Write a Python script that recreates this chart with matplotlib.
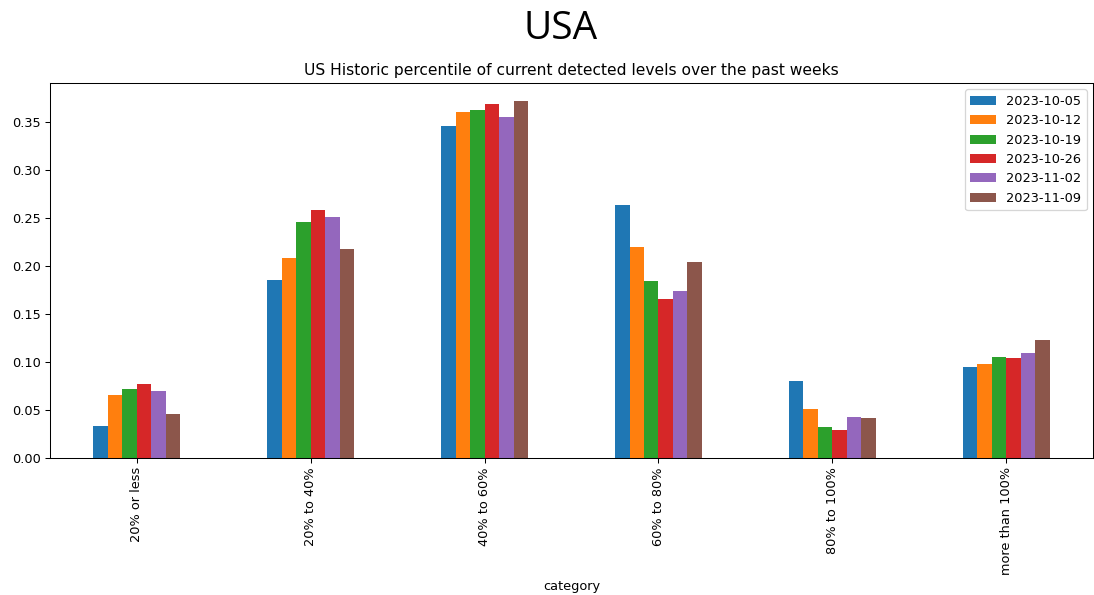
import pandas as pd
import matplotlib.pyplot as plt

categories = ['20% or less', '20% to 40%', '40% to 60%', '60% to 80%', '80% to 100%', 'more than 100%']
weeks = ['2023-10-05', '2023-10-12', '2023-10-19', '2023-10-26', '2023-11-02', '2023-11-09']

w_1005 = [0.033, 0.186, 0.3465, 0.264, 0.0805, 0.095]
w_1012 = [0.066, 0.209, 0.3607, 0.2198, 0.0506, 0.098]
w_1019 = [0.072, 0.2465, 0.3628, 0.185, 0.0323, 0.1055]
w_1026 = [0.0774, 0.259, 0.3688, 0.166, 0.029, 0.1045]
w_1102 = [0.0694, 0.251, 0.356, 0.174, 0.0427, 0.110]
w_1109 = [0.0455, 0.218, 0.3725, 0.2045, 0.042, 0.123]

df = pd.DataFrame({
    weeks[0]: w_1005,
    weeks[1]: w_1012,
    weeks[2]: w_1019,
    weeks[3]: w_1026,
    weeks[4]: w_1102,
    weeks[5]: w_1109,
}, index=pd.Index(categories, name='category'))

dpi = 93
fig = plt.figure(figsize=(1094 / dpi, 595 / dpi), dpi=dpi)
ax = fig.add_axes([0.0457, 0.2303, 0.9535, 0.6302])
df.plot.bar(ax=ax)
ax.set_title('US Historic percentile of current detected levels over the past weeks')
ax.legend(loc='upper right')

fig.text(0.512, 0.952, 'USA', ha='center', va='center', fontsize=30, family='Open Sans')

fig.savefig('out.png', dpi=dpi)
